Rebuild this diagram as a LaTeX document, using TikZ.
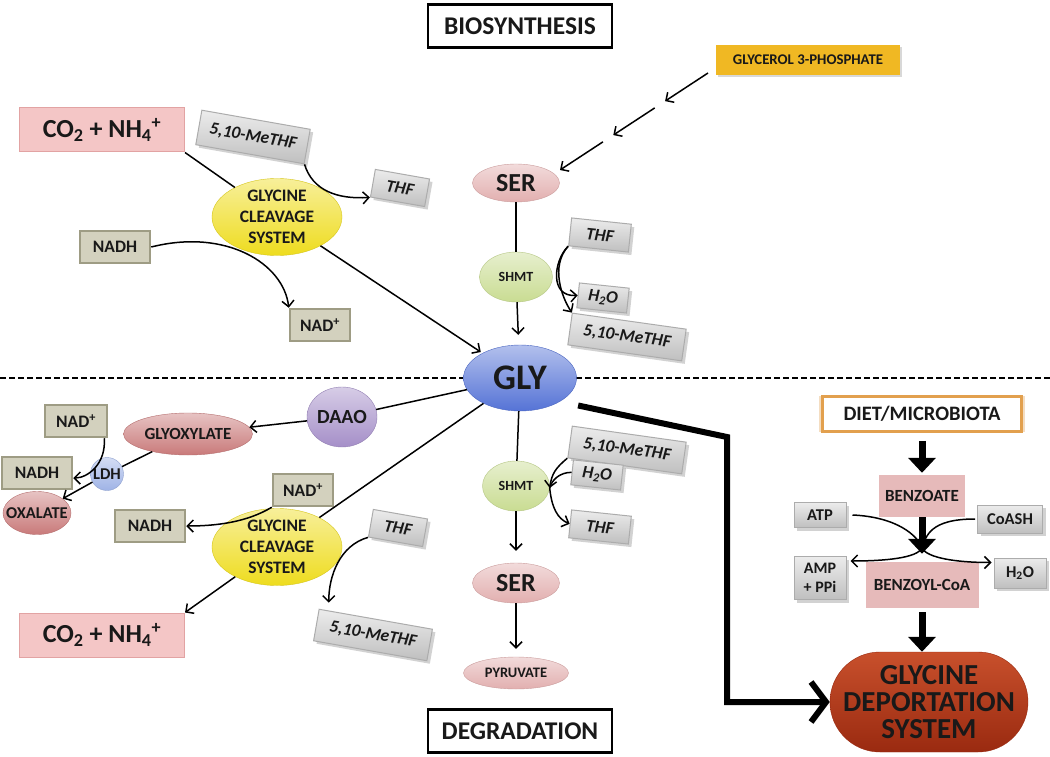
\documentclass[tikz,border=0pt]{standalone}
\usepackage{fontspec}
\setmainfont{Carlito}
\usetikzlibrary{shapes.geometric,shapes.misc,arrows.meta,shadows,calc}
\definecolor{serc}{HTML}{E2AFAF}
\definecolor{shmtc}{HTML}{C9DC92}
\definecolor{glyc}{HTML}{5573D6}
\definecolor{gcsc}{HTML}{EEDC1E}
\definecolor{co2f}{HTML}{F4C6C6}
\definecolor{co2e}{HTML}{E2A3A3}
\definecolor{khf}{HTML}{D3D1BE}
\definecolor{khe}{HTML}{9E9C84}
\definecolor{daaoc}{HTML}{A58FC8}
\definecolor{glxc}{HTML}{C97A7A}
\definecolor{ldhc}{HTML}{9FB3E6}
\definecolor{g3pc}{HTML}{F0B823}
\definecolor{dietc}{HTML}{E2A04E}
\definecolor{benzc}{HTML}{E6BABA}
\definecolor{gdstop}{HTML}{C8502C}
\definecolor{gdsbot}{HTML}{9A2A10}
\newcommand{\fz}[2]{\fontsize{#1}{#2}\selectfont}
\begin{document}
\begin{tikzpicture}[x=1pt,y=-1pt,
  every node/.style={inner sep=0pt, text=black!90},
  title/.style={draw, line width=2.5pt, minimum width=184, minimum height=43, font=\bfseries\fz{25.5}{30}},
  pinkbox/.style={rectangle, fill=co2f, draw=co2e, line width=1pt, minimum width=165, minimum height=44, font=\bfseries\fz{26}{30}},
  khbox/.style={rectangle, fill=khf, draw=khe, line width=2.5pt, minimum height=32, font=\bfseries\fz{17.5}{20}},
  bev/.style={rectangle, top color=gray!15, bottom color=gray!50, draw=gray!65, line width=1pt, drop shadow={opacity=0.35, shadow xshift=3pt, shadow yshift=-3pt}, font=\bfseries\fz{16.5}{20}},
  bevi/.style={bev, font=\bfseries\itshape\fz{17.5}{20}},
  sell/.style={ellipse, top color=#1!45!white, bottom color=#1, draw=#1!90!black, line width=0.4pt},
  arr/.style={line width=1.5pt, -{Straight Barb[length=6pt,width=12pt]}},
  ln/.style={line width=1.5pt},
  fat/.style={line width=7pt, -{Triangle[length=15pt,width=27pt]}},
]
\useasboundingbox (0,0) rectangle (1050,757);
\fill[white] (0,0) rectangle (1050,757);

% dividing line
\coordinate (dl) at (0,378);
\coordinate (dr) at (1050,378);
\draw[line width=1.5pt, dash pattern=on 6pt off 3pt] (dl) -- (dr);

% titles
\node[title] (bio) at (520,26) {BIOSYNTHESIS};
\node[title] (deg) at (520,731) {DEGRADATION};

% ---------- biosynthesis ----------
\node[rectangle, fill=g3pc, drop shadow={opacity=0.3}, minimum width=184, minimum height=30, font=\bfseries\fz{14.8}{17}] (g3p) at (808,60) {GLYCEROL 3-PHOSPHATE};
\node[sell=serc, minimum width=87, minimum height=38, label={[font=\bfseries\fz{26}{28}]center:SER}] (ser1) at (516,183) {};
\node[sell=shmtc, minimum width=73, minimum height=50, label={[font=\bfseries\fz{14}{16}]center:SHMT}] (shmt1) at (516,277) {};
\node[bevi, minimum width=60, minimum height=28, rotate=-6] (thf1) at (600,235) {THF};
\node[bevi, minimum width=115, minimum height=32, rotate=-8] (me1) at (627,337) {5,10-MeTHF};
\node[bevi, minimum width=50, minimum height=25, rotate=-6] (h2o1) at (603,298) {H\textsubscript{2}O};

\node[pinkbox] (co2a) at (102,130) {CO\textsubscript{2} + NH\textsubscript{4}\textsuperscript{+}};
\node[bevi, minimum width=110, minimum height=35, rotate=-10] (meA) at (253,137) {5,10-MeTHF};
\node[bevi, minimum width=55, minimum height=28, rotate=-10] (thfA) at (400,188) {THF};
\node[sell=gcsc, minimum width=130, minimum height=77, label={[align=center, font=\bfseries\fz{17.5}{21}]center:GLYCINE\\CLEAVAGE\\SYSTEM}] (gcsA) at (277,217) {};
\node[khbox, minimum width=70] (nadhA) at (115,247) {NADH};
\node[khbox, minimum width=60] (nadA) at (320,325) {NAD\textsuperscript{+}};

% ---------- GLY ----------
\coordinate (k1) at (727,437);
\node[sell=glyc, minimum width=113, minimum height=66, label={[font=\bfseries\fz{36}{40}]center:GLY}] (gly) at (520,378) {};

% ---------- degradation ----------
\node[khbox, minimum width=62] (nadB) at (76,421) {NAD\textsuperscript{+}};
\node[sell=glxc, minimum width=129, minimum height=42, label={[font=\bfseries\fz{17}{19}]center:GLYOXYLATE}] (glyox) at (188,434) {};
\node[sell=daaoc, minimum width=70, minimum height=60, label={[font=\bfseries\fz{20}{22}]center:DAAO}] (daao) at (342,417) {};
\node[khbox, minimum width=70] (nadhB) at (37,473) {NADH};
\node[sell=ldhc, minimum width=33, minimum height=33, label={[font=\bfseries\fz{16.5}{18}]center:LDH}] (ldh) at (107,474) {};
\node[sell=glxc, minimum width=68, minimum height=43, label={[font=\bfseries\fz{16.5}{18}]center:OXALATE}] (oxal) at (37,513) {};

\node[khbox, minimum width=60] (nadC) at (303,490) {NAD\textsuperscript{+}};
\node[khbox, minimum width=70] (nadhC) at (150,526) {NADH};
\node[sell=gcsc, minimum width=130, minimum height=77, label={[align=center, font=\bfseries\fz{17.5}{21}]center:GLYCINE\\CLEAVAGE\\SYSTEM}] (gcsB) at (277,547) {};
\node[pinkbox] (co2b) at (102,635) {CO\textsubscript{2} + NH\textsubscript{4}\textsuperscript{+}};
\node[bevi, minimum width=55, minimum height=28, rotate=-10] (thfB) at (398,528) {THF};
\node[bevi, minimum width=115, minimum height=32, rotate=-10] (meB) at (373,635) {5,10-MeTHF};

\node[sell=shmtc, minimum width=67, minimum height=50, label={[font=\bfseries\fz{14}{16}]center:SHMT}] (shmt2) at (516,486) {};
\node[bevi, minimum width=115, minimum height=32, rotate=-8] (meC) at (627,450) {5,10-MeTHF};
\node[bevi, minimum width=50, minimum height=25, rotate=-6] (h2oC) at (597,475) {H\textsubscript{2}O};
\node[bevi, minimum width=60, minimum height=28, rotate=-6] (thfC) at (600,527) {THF};
\node[sell=serc, minimum width=87, minimum height=40, label={[font=\bfseries\fz{26}{28}]center:SER}] (ser2) at (516,583) {};
\node[sell=serc, minimum width=105, minimum height=32, label={[font=\bfseries\fz{14.5}{16}]center:PYRUVATE}] (pyr) at (516,673) {};

% ---------- right column ----------
\node[rectangle, draw=dietc, line width=2.5pt, fill=white, minimum width=199, minimum height=35, font=\bfseries\fz{20.5}{23},
      drop shadow={shadow xshift=0pt, shadow yshift=0pt, shadow scale=1.04, fill=dietc, opacity=0.35}] (diet) at (922,414) {DIET/MICROBIOTA};
\node[rectangle, fill=benzc, minimum width=86, minimum height=42, font=\bfseries\fz{17}{19}] (benz) at (922,496) {BENZOATE};
\node[bev, minimum width=52, minimum height=25] (atp) at (820,515) {ATP};
\node[bev, minimum width=65, minimum height=28] (coash) at (1010,519) {CoASH};
\node[bev, minimum width=52, minimum height=43, align=center, font=\bfseries\fz{16}{19}] (amp) at (820,578) {AMP\\+ PPi};
\node[bev, minimum width=52, minimum height=30] (h2oR) at (1020,573) {H\textsubscript{2}O};
\node[rectangle, fill=benzc, minimum width=113, minimum height=46, font=\bfseries\fz{17}{19}] (bzcoa) at (922,585) {BENZOYL-CoA};
\node[rounded rectangle, top color=gdstop, bottom color=gdsbot, draw=gdsbot, minimum width=198, minimum height=100,
      label={[align=center, font=\bfseries\fz{29}{27}]center:GLYCINE\\DEPORTATION\\SYSTEM}] (gds) at (929,702) {};

% ---------- connectors: biosynthesis ----------
\coordinate (ga) at (708,73);
\coordinate (gb) at (560,170);
\draw[arr] (ga) -- ($(ga)!0.29!(gb)$);
\draw[arr] ($(ga)!0.36!(gb)$) -- ($(ga)!0.64!(gb)$);
\draw[arr] ($(ga)!0.71!(gb)$) -- (gb);

\draw[ln] (ser1) -- (shmt1);
\draw[arr, shorten >=10pt] (shmt1) -- (gly);
\draw[arr] (thf1.south west) .. controls +(-15,15) and +(-28,2) .. (h2o1.west);
\draw[arr] (thf1.south west) .. controls +(-18,20) and +(-10,-15) .. (me1.north west);

\draw[ln] (co2a.south east) -- (gcsA);
\draw[arr, shorten >=2pt] (gcsA) -- (gly);
\draw[arr] (meA.south east) .. controls +(8,26) and +(-33,2) .. (thfA.south west);
\draw[arr] (nadhA.east) .. controls +(75,-19) and +(-5,-44) .. (nadA.north west);

% ---------- connectors: degradation ----------
\draw[ln] (gly) -- (daao);
\draw[arr] (daao) -- (glyox);
\draw[ln] (gly) -- (gcsB);
\draw[arr] (nadC.south west) .. controls +(-25,15) and +(30,0) .. (nadhC.east);
\draw[arr] (gcsB) -- (co2b.north east);
\draw[arr] (thfB.south west) .. controls +(-28,8) and +(0,-27) .. ([xshift=10pt,yshift=6pt]meB.north west);
\draw[arr] ([xshift=-4pt]nadB.south east) .. controls +(2,25) and +(15,0) .. ([yshift=-5pt]nadhB.east);
\draw[ln] (glyox) -- (ldh);
\draw[arr] (ldh) -- (oxal);

\draw[ln] (gly) -- (shmt2);
\draw[arr, shorten >=12pt] (shmt2) -- (ser2);
\draw[arr, shorten >=8pt] (ser2) -- (pyr);
\draw[arr] (meC.south west) .. controls +(-12,10) and +(2,-14) .. ([yshift=-2pt]shmt2.east);
\draw[ln] (h2oC.west) .. controls +(-12,0) and +(2,-8) .. ([yshift=-2pt]shmt2.east);
\draw[arr] ([yshift=-2pt]shmt2.east) .. controls +(2,20) and +(-12,-5) .. (thfC.west);

% ---------- connectors: deportation ----------
\draw[line width=6pt, -{Straight Barb[length=15pt,width=40pt]}] ([xshift=18pt,yshift=-4pt]gly.south east) -- (k1) -- (k1 |- gds.west) -- (gds.west);
\draw[fat, shorten <=8pt, shorten >=2pt] (diet) -- (benz);
\draw[fat, shorten >=8pt] (benz) -- (bzcoa);
\draw[fat, shorten <=4pt] (bzcoa.south) -- (bzcoa.south |- gds.north);
\coordinate (cx) at (922,548);
\draw[arr] ([xshift=6pt]atp.east) .. controls +(45,2) and +(-4,-12) .. (cx) .. controls +(5,10) and +(-35,0) .. ([xshift=-2pt,yshift=-5pt]h2oR.north west);
\draw[arr] ([xshift=-2pt]coash.west) .. controls +(-45,0) and +(4,-12) .. (cx) .. controls +(-5,10) and +(35,0) .. ([xshift=4pt,yshift=-5pt]amp.north east);
\end{tikzpicture}
\end{document}
